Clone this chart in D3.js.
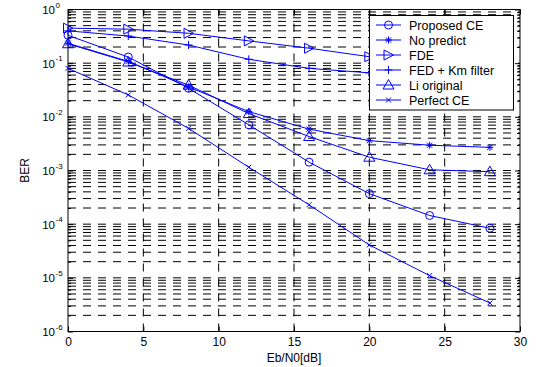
<!DOCTYPE html>
<html>
<head>
<meta charset="utf-8">
<script src="https://cdn.jsdelivr.net/npm/d3@7"></script>
<style>
  body { margin: 0; background: #fff; }
  text { font-family: "Liberation Sans", Arial, Helvetica, sans-serif; }
</style>
</head>
<body>
<script>
// Eb/N0 sample points (dB)
const snr = [0, 4, 8, 12, 16, 20, 24, 28];

// BER per method
const proposedCE = [0.33, 0.13, 0.034, 0.0071, 0.00143, 0.00037, 0.000145, 0.000084];
const noPredict  = [0.235, 0.108, 0.036, 0.0125, 0.0059, 0.0036, 0.00296, 0.0027];
const fde        = [0.45, 0.43, 0.36, 0.26, 0.19, 0.132, 0.105, 0.09];
const fedKm      = [0.40, 0.32, 0.218, 0.118, 0.080, 0.066, 0.058, 0.052];
const liOriginal = [0.23, 0.105, 0.039, 0.0115, 0.0043, 0.00177, 0.00103, 0.00095];
const perfectCE  = [0.080, 0.0256, 0.0061, 0.00115, 0.00023, 0.000041, 0.000011, 0.0000034];

const seriesNames = ["Proposed CE", "No predict", "FDE", "FED + Km filter", "Li original", "Perfect CE"];
const seriesMarkers = ["circle", "star", "tright", "plus", "tup", "cross"];
const seriesValues = [proposedCE, noPredict, fde, fedKm, liOriginal, perfectCE];

const xTicks = [0, 5, 10, 15, 20, 25, 30];
const yExponents = [0, -1, -2, -3, -4, -5, -6];

const width = 536;
const height = 367;
const marginTop = 9.5;
const marginRight = 16;
const marginBottom = 35.5;
const marginLeft = 68;
const blue = "#0000ff";

const x = d3.scaleLinear()
  .domain([0, 30])
  .range([marginLeft, width - marginRight]);

const y = d3.scaleLog()
  .domain([1e-6, 1])
  .range([height - marginBottom, marginTop]);

const yMajor = yExponents.map(e => Math.pow(10, e));
const yMinor = [];
for (let e = -6; e < 0; e++) {
  for (let k = 2; k <= 9; k++) yMinor.push(k * Math.pow(10, e));
}

const svg = d3.create("svg")
  .attr("width", width)
  .attr("height", height);

svg.append("rect").attr("width", width).attr("height", height).attr("fill", "#fff");

// dashed grid
const grid = svg.append("g")
  .attr("stroke", "#000")
  .attr("stroke-width", 1)
  .attr("stroke-dasharray", "8,7");

grid.selectAll("line.h")
  .data(yMajor.concat(yMinor).filter(v => v < 1 && v > 1e-6))
  .join("line")
  .attr("class", "h")
  .attr("x1", marginLeft).attr("x2", width - marginRight)
  .attr("y1", d => y(d)).attr("y2", d => y(d));

grid.selectAll("line.v")
  .data(xTicks.filter(v => v > 0 && v < 30))
  .join("line")
  .attr("class", "v")
  .attr("y1", height - marginBottom).attr("y2", marginTop)
  .attr("x1", d => x(d)).attr("x2", d => x(d));

// axes with inward ticks
function styleAxis(g) {
  g.selectAll("path.domain").remove();
  g.selectAll("line").attr("stroke", "#000");
}

svg.append("g")
  .attr("transform", `translate(0,${height - marginBottom})`)
  .call(d3.axisBottom(x).tickValues(xTicks).tickSize(-5).tickPadding(6))
  .call(styleAxis)
  .call(g => g.selectAll("text").attr("font-size", 12).attr("fill", "#000"));

svg.append("g")
  .attr("transform", `translate(0,${marginTop})`)
  .call(d3.axisTop(x).tickValues(xTicks).tickSize(-5).tickFormat(""))
  .call(styleAxis);

svg.append("g")
  .attr("transform", `translate(${marginLeft},0)`)
  .call(d3.axisLeft(y).tickValues(yMajor).tickSize(-5).tickFormat(""))
  .call(styleAxis);

svg.append("g")
  .attr("transform", `translate(${marginLeft},0)`)
  .call(d3.axisLeft(y).tickValues(yMinor).tickSize(-3).tickFormat(""))
  .call(styleAxis);

svg.append("g")
  .attr("transform", `translate(${width - marginRight},0)`)
  .call(d3.axisRight(y).tickValues(yMajor).tickSize(-5).tickFormat(""))
  .call(styleAxis);

svg.append("g")
  .attr("transform", `translate(${width - marginRight},0)`)
  .call(d3.axisRight(y).tickValues(yMinor).tickSize(-3).tickFormat(""))
  .call(styleAxis);

// y labels 10^n
const yLab = svg.append("g").attr("fill", "#000");
yExponents.forEach(e => {
  const yy = y(Math.pow(10, e));
  const t = yLab.append("text")
    .attr("x", 55)
    .attr("y", yy + 4.5)
    .attr("text-anchor", "end")
    .attr("font-size", 11.5)
    .text("10");
  yLab.append("text")
    .attr("x", 55.5)
    .attr("y", yy - 2)
    .attr("font-size", 8)
    .text(String(e));
});

// box
svg.append("rect")
  .attr("x", marginLeft).attr("y", marginTop)
  .attr("width", width - marginRight - marginLeft)
  .attr("height", height - marginBottom - marginTop)
  .attr("fill", "none")
  .attr("stroke", "#000")
  .attr("stroke-width", 1);

// axis titles
svg.append("text")
  .attr("x", (marginLeft + width - marginRight) / 2)
  .attr("y", 362)
  .attr("text-anchor", "middle")
  .attr("font-size", 12)
  .text("Eb/N0[dB]");

svg.append("text")
  .attr("transform", `translate(29,170.5) rotate(-90)`)
  .attr("text-anchor", "middle")
  .attr("font-size", 12)
  .text("BER");

// markers
function markerPath(type) {
  switch (type) {
    case "circle": return "M4,0A4,4 0 1,1 -4,0A4,4 0 1,1 4,0Z";
    case "tright": return "M5,0L-4.5,-5L-4.5,5Z";
    case "tup": return "M0,-5.5L5.5,4L-5.5,4Z";
    case "plus": return "M-4,0H4M0,-4V4";
    case "cross": return "M-2.5,-2.5L2.5,2.5M-2.5,2.5L2.5,-2.5";
    case "star": return "M-3.5,0H3.5M0,-3.5V3.5M-2.6,-2.6L2.6,2.6M-2.6,2.6L2.6,-2.6";
  }
}

const line = d3.line()
  .x((d, i) => x(snr[i]))
  .y(d => y(d));

seriesValues.forEach((vals, si) => {
  const g = svg.append("g");
  g.append("path")
    .attr("fill", "none")
    .attr("stroke", blue)
    .attr("stroke-width", 1)
    .attr("d", line(vals));
  g.selectAll("path.m")
    .data(vals)
    .join("path")
    .attr("class", "m")
    .attr("fill", "none")
    .attr("stroke", blue)
    .attr("stroke-width", 1)
    .attr("transform", (d, i) => `translate(${x(snr[i])},${y(d)})`)
    .attr("d", markerPath(seriesMarkers[si]));
});

// legend
const legend = svg.append("g");
legend.append("rect")
  .attr("x", 369.5).attr("y", 15.5)
  .attr("width", 144).attr("height", 94.5)
  .attr("fill", "#fff")
  .attr("stroke", "#000")
  .attr("stroke-width", 1);

seriesNames.forEach((name, i) => {
  const ly = 25 + i * 15;
  legend.append("line")
    .attr("x1", 376).attr("x2", 401)
    .attr("y1", ly).attr("y2", ly)
    .attr("stroke", blue);
  legend.append("path")
    .attr("transform", `translate(388.5,${ly})`)
    .attr("d", markerPath(seriesMarkers[i]))
    .attr("fill", "none")
    .attr("stroke", blue);
  legend.append("text")
    .attr("x", 409)
    .attr("y", ly + 4.5)
    .attr("font-size", 12.5)
    .text(name);
});

document.body.appendChild(svg.node());
</script>
</body>
</html>
